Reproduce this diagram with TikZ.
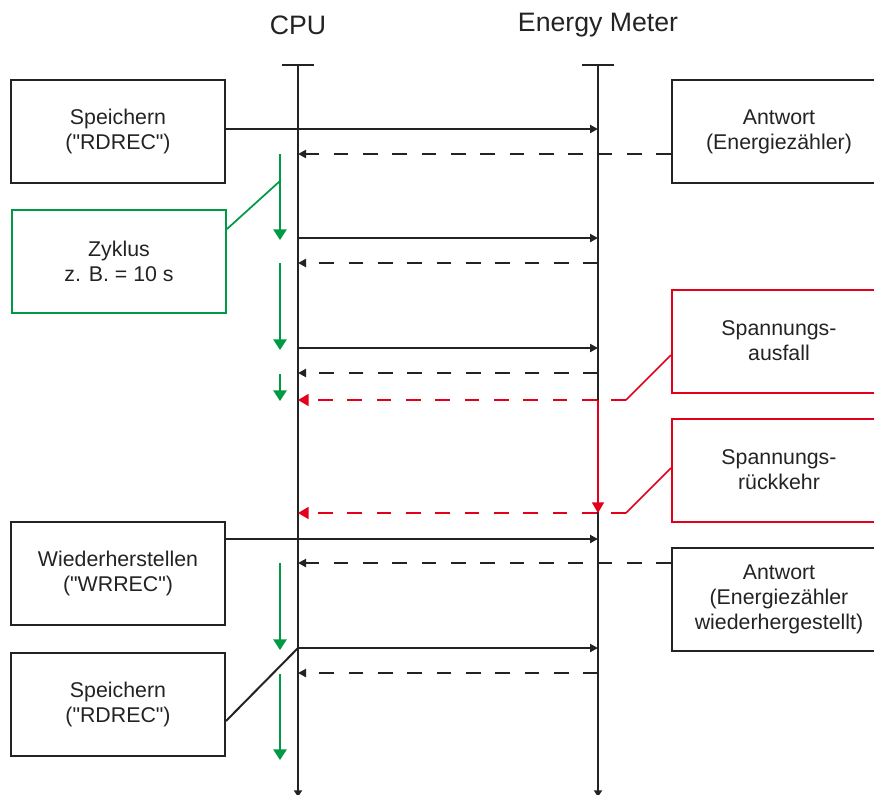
\documentclass[tikz,border=0pt]{standalone}
\usepackage{fontspec}
\setmainfont{Liberation Sans}[Ligatures=TeXOff]
\usetikzlibrary{arrows.meta, positioning, calc}
\definecolor{linegray}{RGB}{35,35,35}
\definecolor{cyclegreen}{RGB}{0,154,68}
\definecolor{failred}{RGB}{226,0,26}

\begin{document}
\begin{tikzpicture}[
  x=0.75pt, y=-0.75pt,
  font=\fontsize{16}{18.75}\selectfont,
  blkbox/.style={draw=linegray, line width=1.5pt, minimum width=160.5pt, minimum height=77.25pt, inner sep=0pt, align=center, text=linegray},
  grnbox/.style={blkbox, draw=cyclegreen},
  redbox/.style={blkbox, draw=failred},
  headlbl/.style={font=\fontsize{20}{24}\selectfont, text=linegray},
  life/.style={draw=linegray, line width=1.5pt},
  req/.style={life, -{Triangle[length=6pt,width=6pt]}},
  resp/.style={life, dash pattern=on 11pt off 11pt, -{Triangle[length=6pt,width=6pt]}},
  cycarrow/.style={draw=cyclegreen, line width=1.3pt, -{Triangle[length=8pt,width=10pt]}},
  failline/.style={draw=failred, line width=1.3pt},
  faildash/.style={failline, dash pattern=on 11pt off 11pt, -{Triangle[length=8pt,width=9pt]}}
]
  \clip (0,0) rectangle (874,794);

  % lifelines
  \coordinate (cpu) at (298,65);
  \coordinate (em) at (598,65);
  \coordinate (cyc) at (280,0);
  \node[headlbl] (cpulbl) at (298,25) {CPU};
  \node[headlbl] (emlbl) at (598,25) {Energy Meter};
  \draw[life] ([xshift=-12pt]cpu) -- ([xshift=12pt]cpu);
  \draw[life] ([xshift=-12pt]em) -- ([xshift=12pt]em);
  \draw[life, -{Triangle[length=5pt,width=6pt]}] (cpu) -- (cpu |- 0,797);
  \draw[life, -{Triangle[length=5pt,width=6pt]}] (em) -- (em |- 0,797);

  % boxes
  \node[blkbox] (save1) at (118,131.5) {Speichern\\("RDREC")};
  \node[grnbox] (cycle) at (119,261.5) {Zyklus\\z. B. = 10 s};
  \node[blkbox] (restore) at (118,573) {Wiederherstellen\\("WRREC")};
  \node[blkbox] (save2) at (118,704) {Speichern\\("RDREC")};
  \node[blkbox] (answer1) at (779,131.5) {Antwort\\(Energiezähler)};
  \node[redbox] (fail) at (779,341) {Spannungs-\\ausfall};
  \node[redbox] (back) at (779,470) {Spannungs-\\rückkehr};
  \node[blkbox] (answer2) at (779,599.5) {Antwort\\(Energiezähler\\wiederhergestellt)};

  % cyclic read
  \draw[req] (save1.east |- 0,129) -- (em |- 0,129);
  \draw[resp] (answer1.west |- 0,154) -- (cpu |- 0,154);
  \draw[req] (cpu |- 0,238) -- (em |- 0,238);
  \draw[resp] (em |- 0,263) -- (cpu |- 0,263);
  \draw[req] (cpu |- 0,348) -- (em |- 0,348);
  \draw[resp] (em |- 0,373) -- (cpu |- 0,373);

  \draw[cycarrow] (cyc |- 0,154) -- (cyc |- 0,240);
  \draw[cycarrow] (cyc |- 0,263) -- (cyc |- 0,350);
  \draw[cycarrow] (cyc |- 0,374) -- (cyc |- 0,401);
  \draw[cycarrow] (cyc |- 0,563) -- (cyc |- 0,650);
  \draw[cycarrow] (cyc |- 0,674) -- (cyc |- 0,760);
  \draw[draw=cyclegreen, line width=1.3pt] (cycle.east |- 0,229) -- (cyc |- 0,181);

  % power failure and return
  \coordinate (failkink) at (626,400);
  \coordinate (backkink) at (626,513);
  \draw[faildash] (failkink) -- (cpu |- failkink);
  \draw[failline] (failkink) -- (fail.west |- 0,355);
  \draw[failline, -{Triangle[length=8pt,width=9pt]}] (em |- failkink) -- (em |- backkink);
  \draw[faildash] (backkink) -- (cpu |- backkink);
  \draw[failline] (backkink) -- (back.west |- 0,468);

  % restore
  \draw[req] (restore.east |- 0,539) -- (em |- 0,539);
  \draw[resp] (answer2.west |- 0,563) -- (cpu |- 0,563);
  \draw[req] (cpu |- 0,648) -- (em |- 0,648);
  \draw[life] (cpu |- 0,648) -- (save2.east |- 0,721);
  \draw[resp] (em |- 0,673) -- (cpu |- 0,673);
\end{tikzpicture}
\end{document}
